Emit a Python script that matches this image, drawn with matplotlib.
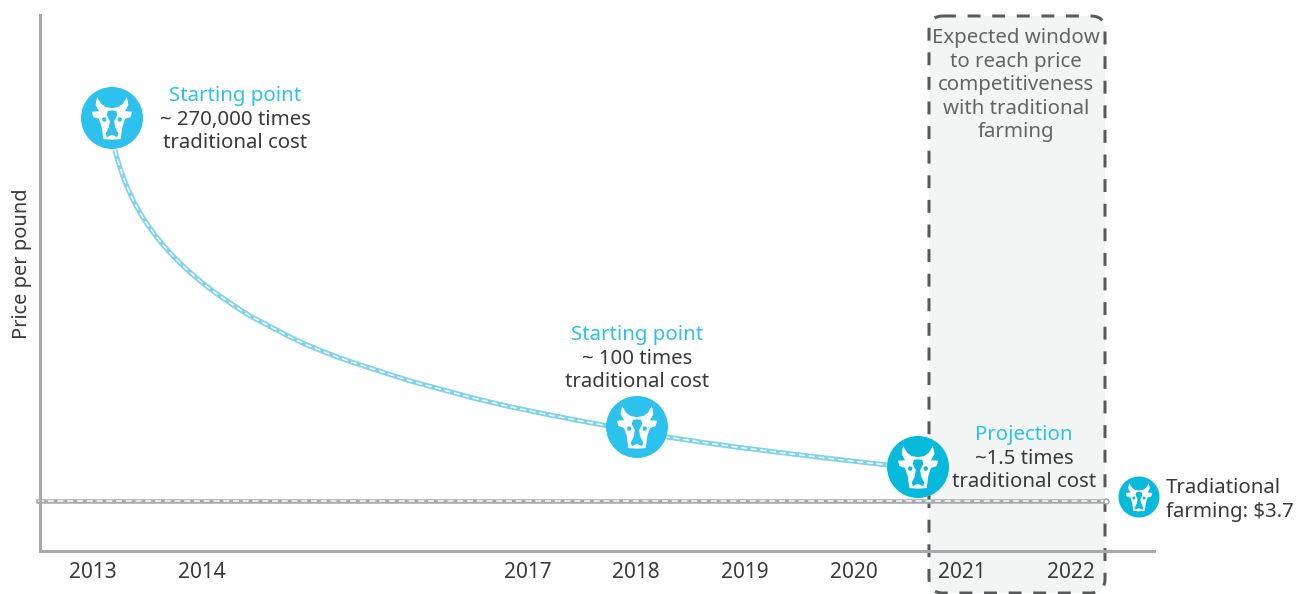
import matplotlib
matplotlib.use("Agg")
import matplotlib.pyplot as plt
from matplotlib.patches import Circle, FancyBboxPatch, Polygon

plt.rcParams["font.family"] = ["Noto Sans", "DejaVu Sans"]

# years on the x axis, price in arbitrary height units (axis has no scale)
tick_years = [2013, 2014, 2017, 2018, 2019, 2020, 2021, 2022]
curve_years = [2013.202, 2013.221, 2013.249, 2013.285, 2013.322, 2013.377, 2013.433, 2013.497,
               2013.571, 2013.644, 2013.727, 2013.819, 2013.920, 2014.031, 2014.141, 2014.289,
               2014.445, 2014.657, 2014.813, 2014.970, 2015.117, 2015.273, 2015.421, 2015.577,
               2015.734, 2015.890, 2016.037, 2016.194, 2016.498, 2016.810, 2017.114, 2017.418,
               2017.666, 2017.970, 2018.283, 2018.587, 2018.955, 2019.323, 2019.783, 2020.308]
curve_price = [401, 393, 383, 372, 362, 349, 338, 327,
               316, 306, 296, 286, 276, 266, 257, 246,
               235, 223, 214, 206, 199.5, 193, 187.5, 182,
               176.5, 171, 166.5, 162, 153, 145, 138, 131.5,
               126.5, 120, 114, 109, 103.5, 98.5, 92.5, 86]
traditional_price = 50

GREY = "#a7a9ac"
BLUE = "#2dc2ee"
TEAL = "#06badb"
DARK = "#3a3a3c"
PX = 0.72  # line width in points for one pixel

fig = plt.figure(figsize=(12.98, 5.94), dpi=100)

# overlay in pixel coords for the window box, icons and notes
bg = fig.add_axes([0, 0, 1, 1], zorder=0)
bg.set_xlim(0, 1298)
bg.set_ylim(594, 0)
bg.axis("off")
bg.add_patch(FancyBboxPatch((929, 16), 176, 577, boxstyle="round,pad=0,rounding_size=14",
                            fc="#f3f5f4", ec="#58595b", lw=3 * PX, ls=(0, (4.3, 3.9))))

ax = fig.add_axes([40 / 1298, 43 / 594, 1114 / 1298, 536 / 594], zorder=1)
ax.patch.set_alpha(0)
ax.set_xlim(2012.512, 2022.765)
ax.set_ylim(0, 536)
for s in ["top", "right"]:
    ax.spines[s].set_visible(False)
for s in ["left", "bottom"]:
    ax.spines[s].set_color(GREY)
    ax.spines[s].set_linewidth(3 * PX)
ax.set_xticks(tick_years)
ax.set_xticklabels([str(y) for y in tick_years], fontsize=15, color=DARK)
ax.set_yticks([])
ax.tick_params(axis="x", length=0, pad=8)

ax.plot(curve_years, curve_price, color="#7fd3ea", lw=5 * PX, solid_capstyle="butt", solid_joinstyle="round")
ax.plot(curve_years, curve_price, color="white", lw=1.5 * PX, ls=(0, (4, 2.5)))

x_start = 2012.49
x_end = 2012.512 + 1066 / 108.65
ax.plot([x_start, x_end], [traditional_price, traditional_price], color=GREY, lw=4.5 * PX, clip_on=False)
ax.plot([x_start, x_end], [traditional_price, traditional_price], color="white", lw=1.5 * PX,
        ls=(0, (4, 2.5)), clip_on=False)
ax.plot([x_end], [traditional_price], "o", ms=5 * PX, mfc="white", mec=GREY, mew=1.5 * PX, clip_on=False)

# notes and icons sit above the axes
top = fig.add_axes([0, 0, 1, 1], zorder=2)
top.set_xlim(0, 1298)
top.set_ylim(594, 0)
top.axis("off")


def half(pts):
    # mirror the right hand outline to get a closed shape
    return pts + [(-x, y) for x, y in reversed(pts)]


HEAD = half([(0, -0.32), (0.2, -0.35), (0.35, -0.46), (0.48, -0.68), (0.53, -0.42), (0.42, -0.22),
             (0.65, -0.2), (0.6, -0.03), (0.42, 0.03), (0.33, 0.3), (0.28, 0.68), (0, 0.7)])
BLAZE = half([(0, -0.25), (0.13, -0.23), (0.17, -0.1), (0.07, 0.1), (0.1, 0.3), (0.2, 0.5),
              (0.17, 0.62), (0, 0.54)])


def cow(cx, cy, r, color):
    top.add_patch(Circle((cx, cy), r, fc=color, ec="none"))
    top.add_patch(Polygon([(cx + x * r, cy + y * r) for x, y in HEAD], fc="white", ec="none"))
    top.add_patch(Polygon([(cx + x * r, cy + y * r) for x, y in BLAZE], fc=color, ec="none"))
    for sx in (-0.25, 0.25):
        top.add_patch(Circle((cx + sx * r, cy + 0.05 * r), 0.07 * r, fc=color, ec="none"))


cow(112, 118, 31, BLUE)
cow(637, 427, 31, BLUE)
cow(918, 467, 31, TEAL)
cow(1139, 497, 20.5, TEAL)


def note(x, y, s, color=DARK):
    top.text(x, y, s, ha="center", va="center", fontsize=14.7, color=color)


note(235, 96, "Starting point", BLUE)
note(235, 120, "~ 270,000 times")
note(235, 143, "traditional cost")
note(637, 335, "Starting point", BLUE)
note(637, 359, "~ 100 times")
note(637, 382, "traditional cost")
note(1024, 435, "Projection", BLUE)
note(1024, 459, "~1.5 times")
note(1024, 482, "traditional cost")
for y, s in zip([38, 62, 85, 109, 132],
                ["Expected window", "to reach price", "competitiveness", "with traditional", "farming"]):
    note(1016, y, s, "#636466")
top.text(1166, 488, "Tradiational", va="center", fontsize=14.7, color=DARK)
top.text(1166, 512, "farming: $3.7", va="center", fontsize=14.7, color=DARK)
top.text(22, 264, "Price per pound", rotation=90, ha="center", va="center", fontsize=14.4, color=DARK)

fig.savefig("out.png", dpi=100)
